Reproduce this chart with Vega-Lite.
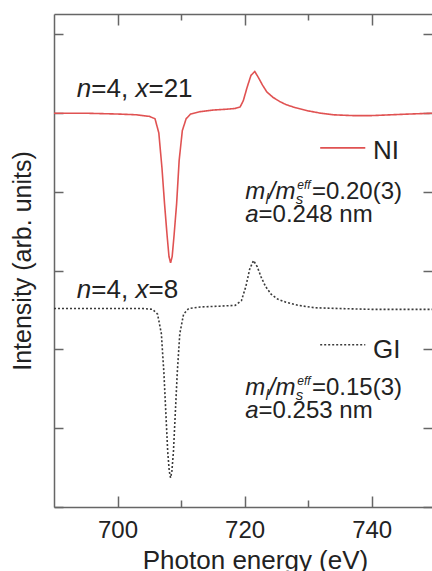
{
  "$schema": "https://vega.github.io/schema/vega-lite/v6.json",
  "width": 378,
  "height": 493,
  "autosize": "none",
  "padding": {"left": 54, "top": 14, "right": 0, "bottom": 64},
  "background": "white",
  "config": {
    "view": {"stroke": null},
    "font": "Liberation Sans",
    "axis": {
      "grid": false,
      "domainColor": "#666666",
      "domainWidth": 1.5,
      "tickColor": "#666666",
      "tickWidth": 1.5,
      "labelFont": "Liberation Sans",
      "titleFont": "Liberation Sans",
      "labelColor": "#222222",
      "titleColor": "#222222",
      "titleFontWeight": "normal"
    },
    "text": {"font": "Liberation Sans", "color": "#222222", "align": "left", "baseline": "alphabetic"}
  },
  "datasets": {
    "curves": [
      {"e": 690, "v": 5.00, "s": "NI"},
      {"e": 695, "v": 5.00, "s": "NI"},
      {"e": 700, "v": 4.99, "s": "NI"},
      {"e": 703, "v": 4.98, "s": "NI"},
      {"e": 705, "v": 4.96, "s": "NI"},
      {"e": 705.9, "v": 4.93, "s": "NI"},
      {"e": 706.5, "v": 4.75, "s": "NI"},
      {"e": 707.0, "v": 4.30, "s": "NI"},
      {"e": 707.4, "v": 3.85, "s": "NI"},
      {"e": 707.8, "v": 3.45, "s": "NI"},
      {"e": 708.1, "v": 3.18, "s": "NI"},
      {"e": 708.35, "v": 3.10, "s": "NI"},
      {"e": 708.6, "v": 3.18, "s": "NI"},
      {"e": 708.9, "v": 3.45, "s": "NI"},
      {"e": 709.3, "v": 3.85, "s": "NI"},
      {"e": 709.7, "v": 4.40, "s": "NI"},
      {"e": 710.2, "v": 4.78, "s": "NI"},
      {"e": 710.8, "v": 4.93, "s": "NI"},
      {"e": 711.5, "v": 4.99, "s": "NI"},
      {"e": 713, "v": 5.02, "s": "NI"},
      {"e": 715, "v": 5.04, "s": "NI"},
      {"e": 717, "v": 5.05, "s": "NI"},
      {"e": 718.5, "v": 5.06, "s": "NI"},
      {"e": 719.3, "v": 5.08, "s": "NI"},
      {"e": 719.8, "v": 5.16, "s": "NI"},
      {"e": 720.4, "v": 5.33, "s": "NI"},
      {"e": 721.0, "v": 5.48, "s": "NI"},
      {"e": 721.6, "v": 5.53, "s": "NI"},
      {"e": 722.2, "v": 5.45, "s": "NI"},
      {"e": 722.8, "v": 5.36, "s": "NI"},
      {"e": 723.5, "v": 5.27, "s": "NI"},
      {"e": 724.5, "v": 5.20, "s": "NI"},
      {"e": 725.5, "v": 5.15, "s": "NI"},
      {"e": 726.5, "v": 5.11, "s": "NI"},
      {"e": 728, "v": 5.07, "s": "NI"},
      {"e": 730, "v": 5.03, "s": "NI"},
      {"e": 732, "v": 5.00, "s": "NI"},
      {"e": 734, "v": 4.98, "s": "NI"},
      {"e": 737, "v": 4.97, "s": "NI"},
      {"e": 740, "v": 4.97, "s": "NI"},
      {"e": 743, "v": 4.98, "s": "NI"},
      {"e": 746, "v": 4.99, "s": "NI"},
      {"e": 749.5, "v": 5.00, "s": "NI"},
      {"e": 690, "v": 2.52, "s": "GI"},
      {"e": 700, "v": 2.52, "s": "GI"},
      {"e": 704, "v": 2.52, "s": "GI"},
      {"e": 705.5, "v": 2.51, "s": "GI"},
      {"e": 706.3, "v": 2.45, "s": "GI"},
      {"e": 706.9, "v": 2.20, "s": "GI"},
      {"e": 707.3, "v": 1.70, "s": "GI"},
      {"e": 707.6, "v": 1.20, "s": "GI"},
      {"e": 707.9, "v": 0.70, "s": "GI"},
      {"e": 708.15, "v": 0.45, "s": "GI"},
      {"e": 708.35, "v": 0.37, "s": "GI"},
      {"e": 708.55, "v": 0.45, "s": "GI"},
      {"e": 708.8, "v": 0.70, "s": "GI"},
      {"e": 709.1, "v": 1.20, "s": "GI"},
      {"e": 709.4, "v": 1.70, "s": "GI"},
      {"e": 709.8, "v": 2.20, "s": "GI"},
      {"e": 710.4, "v": 2.45, "s": "GI"},
      {"e": 711.2, "v": 2.52, "s": "GI"},
      {"e": 713, "v": 2.54, "s": "GI"},
      {"e": 716, "v": 2.55, "s": "GI"},
      {"e": 718.5, "v": 2.56, "s": "GI"},
      {"e": 719.5, "v": 2.62, "s": "GI"},
      {"e": 720.2, "v": 2.80, "s": "GI"},
      {"e": 720.8, "v": 3.02, "s": "GI"},
      {"e": 721.4, "v": 3.13, "s": "GI"},
      {"e": 722.0, "v": 3.05, "s": "GI"},
      {"e": 722.6, "v": 2.92, "s": "GI"},
      {"e": 723.3, "v": 2.80, "s": "GI"},
      {"e": 724.2, "v": 2.70, "s": "GI"},
      {"e": 725.2, "v": 2.64, "s": "GI"},
      {"e": 726.5, "v": 2.60, "s": "GI"},
      {"e": 728.5, "v": 2.56, "s": "GI"},
      {"e": 731, "v": 2.53, "s": "GI"},
      {"e": 735, "v": 2.52, "s": "GI"},
      {"e": 740, "v": 2.51, "s": "GI"},
      {"e": 745, "v": 2.51, "s": "GI"},
      {"e": 749.5, "v": 2.51, "s": "GI"}
    ],
    "legendLines": [
      {"e": 731.9, "e2": 739.0, "v": 4.56, "s": "NI"},
      {"e": 731.9, "e2": 739.0, "v": 2.06, "s": "GI"}
    ],
    "bigItalic": [
      {"e": 693.6, "v": 5.20, "t": "n"},
      {"e": 702.82, "v": 5.20, "t": "x"},
      {"e": 693.6, "v": 2.66, "t": "n"},
      {"e": 702.82, "v": 2.66, "t": "x"}
    ],
    "bigNormal": [
      {"e": 695.88, "v": 5.20, "t": "=4,"},
      {"e": 704.87, "v": 5.20, "t": "=21"},
      {"e": 695.88, "v": 2.66, "t": "=4,"},
      {"e": 704.87, "v": 2.66, "t": "=8"},
      {"e": 740.2, "v": 4.42, "t": "NI"},
      {"e": 740.2, "v": 1.89, "t": "GI"}
    ],
    "annItalic": [
      {"e": 720.1, "v": 3.91, "t": "m"},
      {"e": 723.8, "v": 3.91, "t": "/"},
      {"e": 724.85, "v": 3.91, "t": "m"},
      {"e": 720.1, "v": 3.62, "t": "a"},
      {"e": 720.1, "v": 1.42, "t": "m"},
      {"e": 723.8, "v": 1.42, "t": "/"},
      {"e": 724.85, "v": 1.42, "t": "m"},
      {"e": 720.1, "v": 1.13, "t": "a"}
    ],
    "annNormal": [
      {"e": 730.6, "v": 3.91, "t": "=0.20(3)"},
      {"e": 722.2, "v": 3.62, "t": "=0.248 nm"},
      {"e": 730.6, "v": 1.42, "t": "=0.15(3)"},
      {"e": 722.2, "v": 1.13, "t": "=0.253 nm"}
    ],
    "annSub": [
      {"e": 723.3, "v": 3.91, "t": "l"},
      {"e": 728.05, "v": 3.91, "t": "s"},
      {"e": 723.3, "v": 1.42, "t": "l"},
      {"e": 728.05, "v": 1.42, "t": "s"}
    ],
    "annSup": [
      {"e": 728.3, "v": 3.91, "t": "eff"},
      {"e": 728.3, "v": 1.42, "t": "eff"}
    ]
  },
  "layer": [
    {
      "data": {"name": "curves"},
      "mark": {"type": "line", "strokeWidth": 1.6, "clip": true},
      "encoding": {
        "x": {"field": "e", "type": "quantitative", "scale": {"domain": [690, 749.5], "nice": false, "zero": false},
          "axis": {"orient": "bottom", "values": [700, 720, 740], "tickSize": -11, "labelPadding": 22, "labelFontSize": 24, "labelFlush": false,
            "title": "Photon energy (eV)", "titleFontSize": 26, "titlePadding": 5, "titleX": 201}},
        "y": {"field": "v", "type": "quantitative", "scale": {"domain": [0, 6.26], "nice": false, "zero": false},
          "axis": {"orient": "left", "values": [0, 1, 2, 3, 4, 5, 6], "tickSize": -9, "labels": false,
            "title": "Intensity (arb. units)", "titleFontSize": 25, "titlePadding": 18}},
        "color": {"field": "s", "type": "nominal", "scale": {"domain": ["NI", "GI"], "range": ["#e05252", "#3a3a3a"]}, "legend": null},
        "strokeDash": {"field": "s", "type": "nominal", "scale": {"domain": ["NI", "GI"], "range": [[1, 0], [2, 2]]}, "legend": null}
      }
    },
    {
      "data": {"name": "legendLines"},
      "mark": {"type": "rule", "strokeWidth": 1.6},
      "encoding": {
        "x": {"field": "e", "type": "quantitative", "scale": {"domain": [690, 749.5], "nice": false, "zero": false},
          "axis": {"orient": "top", "values": [700, 720, 740], "tickSize": -11, "labels": false, "title": null}},
        "x2": {"field": "e2"},
        "y": {"field": "v", "type": "quantitative", "scale": {"domain": [0, 6.26], "nice": false, "zero": false},
          "axis": {"orient": "right", "values": [0, 1, 2, 3, 4, 5, 6], "tickSize": -9, "labels": false, "domain": false, "title": null}},
        "color": {"field": "s", "type": "nominal", "scale": {"domain": ["NI", "GI"], "range": ["#e05252", "#3a3a3a"]}, "legend": null},
        "strokeDash": {"field": "s", "type": "nominal", "scale": {"domain": ["NI", "GI"], "range": [[1, 0], [2, 2]]}, "legend": null}
      }
    },
    {
      "data": {"name": "bigItalic"},
      "mark": {"type": "text", "fontSize": 26, "fontStyle": "italic"},
      "encoding": {
        "x": {"field": "e", "type": "quantitative", "scale": {"domain": [690, 749.5], "nice": false, "zero": false},
          "axis": {"orient": "bottom", "values": [710, 730], "tickSize": -7, "labels": false, "domain": false, "title": null}},
        "y": {"field": "v", "type": "quantitative", "scale": {"domain": [0, 6.26], "nice": false, "zero": false}, "axis": null},
        "text": {"field": "t"}
      }
    },
    {
      "data": {"name": "bigNormal"},
      "mark": {"type": "text", "fontSize": 26},
      "encoding": {
        "x": {"field": "e", "type": "quantitative", "scale": {"domain": [690, 749.5], "nice": false, "zero": false},
          "axis": {"orient": "top", "values": [710, 730], "tickSize": -6, "labels": false, "domain": false, "title": null}},
        "y": {"field": "v", "type": "quantitative", "scale": {"domain": [0, 6.26], "nice": false, "zero": false}, "axis": null},
        "text": {"field": "t"}
      }
    },
    {
      "data": {"name": "annItalic"},
      "mark": {"type": "text", "fontSize": 24, "fontStyle": "italic"},
      "encoding": {
        "x": {"field": "e", "type": "quantitative", "scale": {"domain": [690, 749.5], "nice": false, "zero": false}, "axis": null},
        "y": {"field": "v", "type": "quantitative", "scale": {"domain": [0, 6.26], "nice": false, "zero": false}, "axis": null},
        "text": {"field": "t"}
      }
    },
    {
      "data": {"name": "annNormal"},
      "mark": {"type": "text", "fontSize": 24},
      "encoding": {
        "x": {"field": "e", "type": "quantitative", "scale": {"domain": [690, 749.5], "nice": false, "zero": false}, "axis": null},
        "y": {"field": "v", "type": "quantitative", "scale": {"domain": [0, 6.26], "nice": false, "zero": false}, "axis": null},
        "text": {"field": "t"}
      }
    },
    {
      "data": {"name": "annSub"},
      "mark": {"type": "text", "fontSize": 15, "fontStyle": "italic", "dy": 5},
      "encoding": {
        "x": {"field": "e", "type": "quantitative", "scale": {"domain": [690, 749.5], "nice": false, "zero": false}, "axis": null},
        "y": {"field": "v", "type": "quantitative", "scale": {"domain": [0, 6.26], "nice": false, "zero": false}, "axis": null},
        "text": {"field": "t"}
      }
    },
    {
      "data": {"name": "annSup"},
      "mark": {"type": "text", "fontSize": 12, "fontStyle": "italic", "dy": -10},
      "encoding": {
        "x": {"field": "e", "type": "quantitative", "scale": {"domain": [690, 749.5], "nice": false, "zero": false}, "axis": null},
        "y": {"field": "v", "type": "quantitative", "scale": {"domain": [0, 6.26], "nice": false, "zero": false}, "axis": null},
        "text": {"field": "t"}
      }
    }
  ],
  "resolve": {"axis": {"x": "independent", "y": "independent"}}
}
